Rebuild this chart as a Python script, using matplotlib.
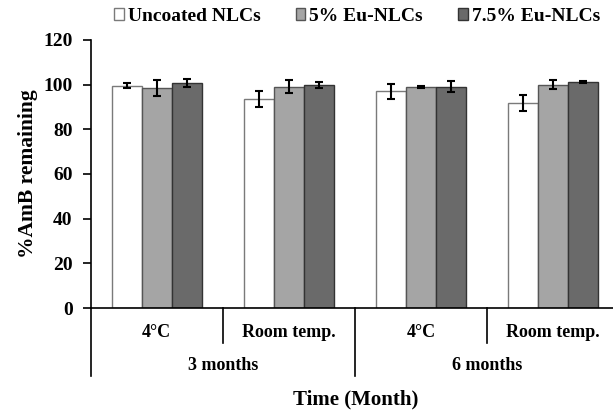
import matplotlib.pyplot as plt
import numpy as np

# --- Data ---
conditions = ["4°C", "Room temp.", "4°C", "Room temp."]
periods = ["3 months", "6 months"]
series = ["Uncoated NLCs", "5% Eu-NLCs", "7.5% Eu-NLCs"]
uncoated = [99.5, 93.5, 97.0, 91.6]
uncoated_err = [1.1, 3.7, 3.4, 3.6]
eu5 = [98.3, 99.1, 99.1, 100.0]
eu5_err = [3.6, 2.8, 0.4, 1.9]
eu75 = [100.8, 100.0, 99.1, 101.2]
eu75_err = [1.7, 1.3, 2.5, 0.3]

colors = ["#ffffff", "#a5a5a5", "#6a6a6a"]
edges = ["#7a7a7a", "#555555", "#333333"]

plt.rcParams["font.family"] = ["Liberation Serif", "DejaVu Serif"]
plt.rcParams["font.weight"] = "bold"

fig = plt.figure(figsize=(6.13, 4.12), dpi=100)
ax = fig.add_axes([0.148, 0.2524, 0.862, 0.6506])

x = np.arange(len(conditions))
w = 0.228
for i, (vals, errs) in enumerate([(uncoated, uncoated_err), (eu5, eu5_err), (eu75, eu75_err)]):
    ax.bar(x + (i - 1) * w, vals, w, color=colors[i], edgecolor=edges[i], linewidth=1.0,
           label=series[i], zorder=2)
    ax.errorbar(x + (i - 1) * w, vals, yerr=errs, fmt="none", ecolor="black",
                elinewidth=1.5, capsize=3, capthick=1.5, zorder=3)

ax.set_xlim(-0.5, 3.5)
ax.set_ylim(0, 120)
ax.set_yticks(range(0, 121, 20))
ax.tick_params(axis="y", labelsize=14, length=6, width=1.2, direction="out", pad=7)
for lab in ax.get_yticklabels():
    lab.set_fontweight("bold")
ax.set_xticks([])
ax.spines["top"].set_visible(False)
ax.spines["right"].set_visible(False)
ax.spines["left"].set_linewidth(1.2)
ax.spines["bottom"].set_linewidth(1.2)

# two-level category axis
trans = ax.get_xaxis_transform()
for i, c in enumerate(conditions):
    ax.text(x[i], -0.09, c, transform=trans, ha="center", va="center", fontsize=13, fontweight="bold")
for j, p in enumerate(periods):
    ax.text(0.5 + 2 * j, -0.216, p, transform=trans, ha="center", va="center", fontsize=13, fontweight="bold")
for xs in [-0.5, 1.5, 3.5]:
    ax.plot([xs, xs], [0, -0.254], transform=trans, color="black", lw=1.2, clip_on=False)
for xs in [0.5, 2.5]:
    ax.plot([xs, xs], [0, -0.13], transform=trans, color="black", lw=1.2, clip_on=False)

fig.text(0.58, 0.03, "Time (Month)", ha="center", va="center", fontsize=15, fontweight="bold")
ax.set_ylabel("%AmB remaining", fontsize=15.5, fontweight="bold", labelpad=4)

ax.legend(loc="center", bbox_to_anchor=(0.504, 1.088), ncol=3, frameon=False,
          prop={"size": 14, "weight": "bold"}, handlelength=0.5, handleheight=0.5,
          handletextpad=0.2, columnspacing=1.8, borderaxespad=0.0)

fig.savefig("out.png", dpi=100)
